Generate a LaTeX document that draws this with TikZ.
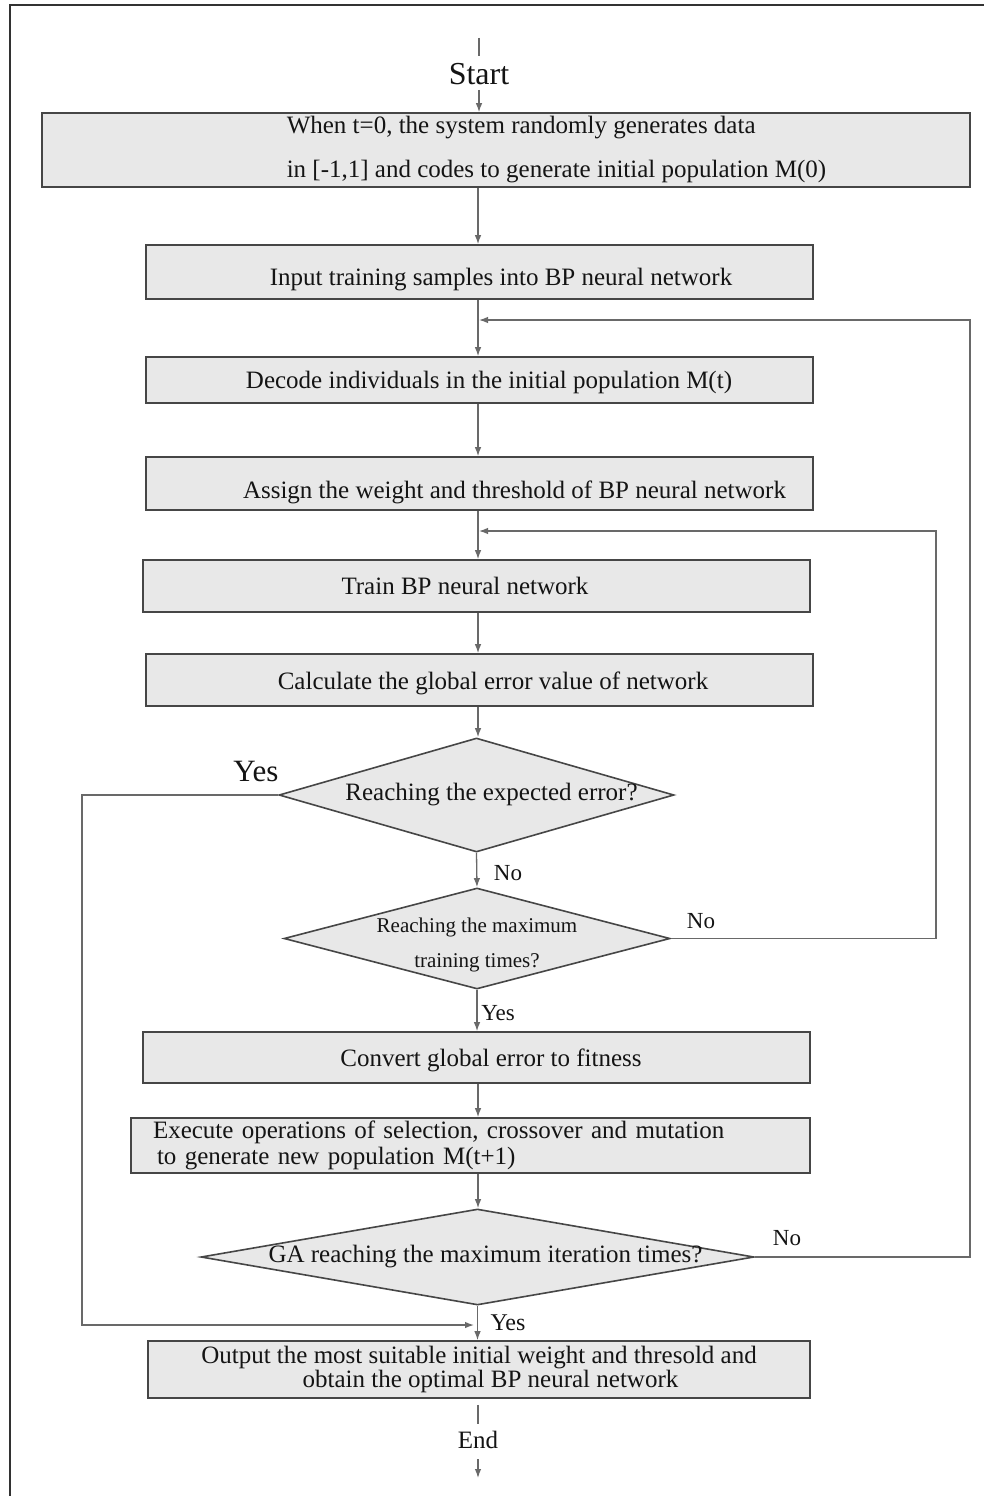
\documentclass[tikz,border=0pt]{standalone}
\usepackage{fontspec}
\setmainfont{Liberation Serif}
\usetikzlibrary{arrows.meta,shapes.geometric,calc}
\definecolor{linec}{RGB}{105,105,105}
\definecolor{boxc}{RGB}{70,70,70}
\definecolor{fillc}{RGB}{232,232,232}
\definecolor{txtc}{RGB}{20,20,20}
\definecolor{framec}{RGB}{50,50,50}
\newcommand\lowr[2]{\raisebox{-#1}[\height][\depth]{#2}}
\begin{document}
\begin{tikzpicture}[x=1pt,y=-1pt,
  every node/.style={text=txtc},
  pbox/.style={draw=boxc, line width=1.6pt, fill=fillc, inner sep=0pt, align=center,
    font=\fontsize{25}{30}\selectfont},
  dbox/.style={diamond, draw=boxc, line width=1.6pt, fill=fillc, inner sep=0pt,
    font=\fontsize{25}{30}\selectfont},
  conn/.style={draw=linec, line width=1.3pt},
  arr/.style={conn, -{Latex[length=9pt,width=6.5pt]}},
  lab/.style={font=\fontsize{23}{27}\selectfont, inner sep=0pt}
]
\useasboundingbox (0,0) rectangle (984,1496);
\fill[white] (0,0) rectangle (984,1496);
\draw[line width=2pt, framec] (10,1496) -- (10,5.5) -- (984,5.5);

% terminal labels
\coordinate (s0) at (479,38);
\node[inner sep=0pt, font=\fontsize{32}{36}\selectfont] (start) at (479,74) {Start};

% boxes
\node[pbox, minimum width=928pt, minimum height=74pt, align=left,
  font=\fontsize{25}{44}\selectfont] (b1) at (506,150)
  {\hspace*{101pt}When t=0, the system randomly generates data\\
   \hspace*{101pt}in [-1,1] and codes to generate initial population M(0)};
\node[pbox, minimum width=667pt, minimum height=54pt] (b2) at (479.5,272)
  {\lowr{8pt}{\hspace*{43pt}Input training samples into BP neural network}};
\node[pbox, minimum width=667pt, minimum height=46pt] (b3) at (479.5,380)
  {\lowr{2pt}{\hspace*{19pt}Decode individuals in the initial population M(t)}};
\node[pbox, minimum width=667pt, minimum height=53pt] (b4) at (479.5,483.5)
  {\lowr{9pt}{\hspace*{70pt}Assign the weight and threshold of BP neural network}};
\node[pbox, minimum width=667pt, minimum height=52pt] (b5) at (476.5,586)
  {Train BP neural network\hspace*{23pt}};
\node[pbox, minimum width=667pt, minimum height=52pt] (b6) at (479.5,680)
  {\lowr{3pt}{\hspace*{27pt}Calculate the global error value of network}};

% decisions
\node[dbox, minimum width=395pt, minimum height=114pt] (d1) at (476.5,795)
  {\makebox[0pt]{\hspace*{30pt}Reaching the expected error?}};
\node[dbox, minimum width=386pt, minimum height=101pt] (d2) at (477,938.5)
  {\makebox[0pt]{\lowr{4pt}{\fontsize{21}{35}\selectfont\begin{tabular}{@{}c@{}}Reaching the maximum\\training times?\end{tabular}}}};

\node[pbox, minimum width=667pt, minimum height=51pt] (b7) at (476.5,1057.5)
  {\lowr{3pt}{\hspace*{29pt}Convert global error to fitness}};
\node[pbox, minimum width=679pt, minimum height=55pt, text width=635pt, align=left,
  font=\fontsize{25}{26}\selectfont] (b8) at (470.5,1145.5)
  {Execute operations of selection, crossover and mutation\\
   \hspace*{4pt}to generate new population M(t+1)};
\node[dbox, minimum width=553pt, minimum height=96pt] (d3) at (477.5,1257)
  {\makebox[0pt]{\hspace*{16pt}GA reaching the maximum iteration times?}};
\node[pbox, minimum width=662pt, minimum height=57pt,
  font=\fontsize{25}{22}\selectfont] (b9) at (479,1369.5)
  {Output the most suitable initial weight and thresold and\\
   \hspace*{23pt}obtain the optimal BP neural network};

\node[inner sep=0pt, font=\fontsize{25}{30}\selectfont] (end) at (478,1440) {End};
\coordinate (e1) at (478,1478);

% axis
\coordinate (ax) at (478,0);

% main flow
\draw[conn, shorten >=7pt] (s0) -- (start.north);
\draw[arr, shorten <=5pt] (start.south) -- (b1.north -| start);
\draw[arr] (b1.south -| ax) -- (b2.north -| ax);
\draw[arr] (b2.south -| ax) -- (b3.north -| ax);
\draw[arr] (b3.south -| ax) -- (b4.north -| ax);
\draw[arr] (b4.south -| ax) -- (b5.north -| ax);
\draw[arr] (b5.south -| ax) -- (b6.north -| ax);
\draw[arr] (b6.south -| ax) -- (d1.north -| ax);
\draw[arr] (d1.south) -- (d2.north);
\draw[arr] (d2.south) -- (b7.north -| d2.south);
\draw[arr] (b7.south -| ax) -- (b8.north -| ax);
\draw[arr] (b8.south -| ax) -- (d3.north -| ax);
\draw[arr] (d3.south) -- (b9.north -| d3.south);
\draw[conn, shorten <=6pt, shorten >=7pt] (b9.south -| end) -- (end.north);
\draw[arr, shorten <=10pt] (end.south) -- (e1);

% loops
\coordinate (l1x) at (970,320);
\coordinate (l1t) at (479,320);
\draw[arr] (d3.east) -| (l1x) -- (l1t);
\coordinate (l2x) at (936,531);
\coordinate (l2t) at (479,531);
\draw[arr] (d2.east) -| (l2x) -- (l2t);
\coordinate (ycx) at (82,1325);
\coordinate (yct) at (474,1325);
\draw[arr] (d1.west) -| (ycx) -- (yct);

% labels
\node[lab, font=\fontsize{31}{34}\selectfont] (yes1) at (256,771) {Yes};
\node[lab] (no1) at (508,873) {No};
\node[lab] (no2) at (701,921) {No};
\node[lab] (yes2) at (498,1013) {Yes};
\node[lab] (no3) at (787,1238) {No};
\node[lab, font=\fontsize{24}{28}\selectfont] (yes3) at (508,1323) {Yes};
\end{tikzpicture}
\end{document}
